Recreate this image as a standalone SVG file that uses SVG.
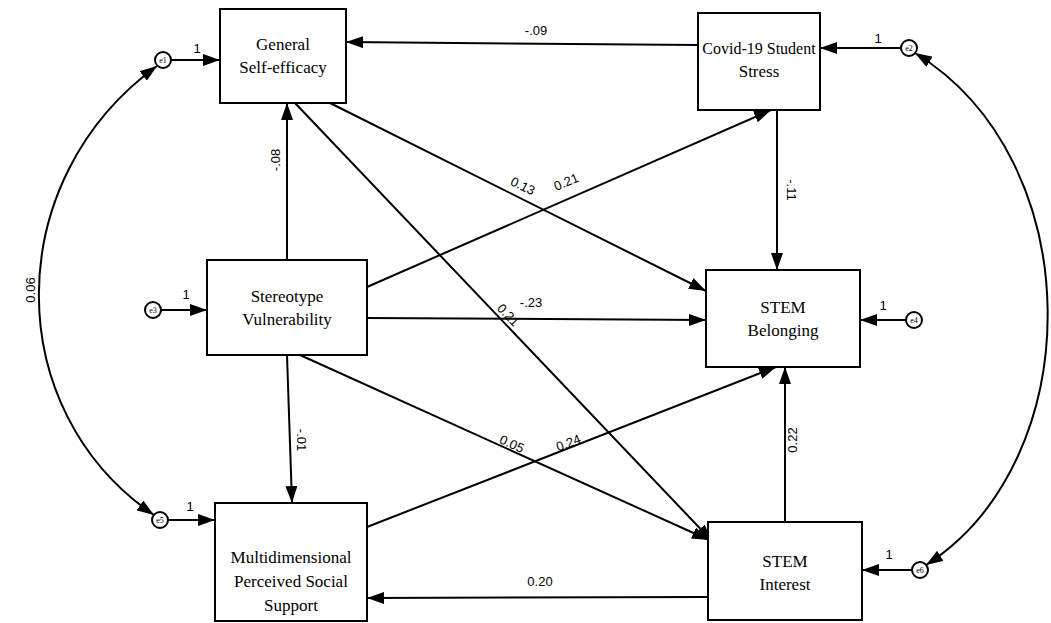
<svg xmlns="http://www.w3.org/2000/svg" width="1051" height="623" viewBox="0 0 1051 623">
<style>
.box{fill:#fff;stroke:#000;stroke-width:2}
.bt{font-family:"Liberation Serif",serif;font-size:17px;fill:#000;text-anchor:middle}
.lb{font-family:"Liberation Sans",sans-serif;font-size:13px;fill:#000;text-anchor:middle}
.ln{fill:none;stroke:#000;stroke-width:2;marker-end:url(#ah)}
.cv{fill:none;stroke:#000;stroke-width:2;marker-start:url(#ah);marker-end:url(#ah)}
.ec{fill:#fff;stroke:#000;stroke-width:2}
.et{font-family:"Liberation Serif",serif;font-size:8px;fill:#000;text-anchor:middle}
</style>
<defs>
<marker id="ah" viewBox="0 0 17 12" refX="17" refY="6" markerWidth="17" markerHeight="12" markerUnits="userSpaceOnUse" orient="auto-start-reverse">
<path d="M0,0 L17,6 L0,12 Z" fill="#000"/>
</marker>
</defs>
<rect width="1051" height="623" fill="#fff"/>
<g id="connectors">
<path class="ln" d="M698,45 L346,42"/>
<path class="ln" d="M287,260 L287,103"/>
<path class="ln" d="M330,103 L706,291"/>
<path class="ln" d="M367,287 L771,110"/>
<path class="ln" d="M295,103 L712,541"/>
<path class="ln" d="M367,318 L706,320"/>
<path class="ln" d="M287,355 L292,503"/>
<path class="ln" d="M300,355 L709,540"/>
<path class="ln" d="M367,527 L776,367"/>
<path class="ln" d="M777,110 L777,270"/>
<path class="ln" d="M785,522 L785,367"/>
<path class="ln" d="M708,597 L367,598"/>
<path class="ln" d="M171,60 L220,60"/>
<path class="ln" d="M901,48 L820,48"/>
<path class="ln" d="M161,310 L207,310"/>
<path class="ln" d="M906,320 L860,320"/>
<path class="ln" d="M168,520 L215,520"/>
<path class="ln" d="M912,570 L862,570"/>
<path class="cv" d="M157,66 C0,180 0,410 154,515"/>
<path class="cv" d="M915,53 C1090,160 1090,460 926,565"/>
<text class="lb" x="536" y="35">-.09</text>
<text class="lb" transform="translate(280,160) rotate(-90)">-.08</text>
<text class="lb" transform="translate(521,190) rotate(26)">0.13</text>
<text class="lb" transform="translate(568,186) rotate(-23)">0.21</text>
<text class="lb" transform="translate(505,318) rotate(46)">0.21</text>
<text class="lb" x="531" y="307">-.23</text>
<text class="lb" transform="translate(297,440) rotate(90)">-.01</text>
<text class="lb" transform="translate(510,448) rotate(24)">0.05</text>
<text class="lb" transform="translate(570,447) rotate(-21)">0.24</text>
<text class="lb" transform="translate(787,190) rotate(90)">-.11</text>
<text class="lb" transform="translate(797,440) rotate(-90)">0.22</text>
<text class="lb" x="540" y="586">0.20</text>
<text class="lb" transform="translate(35,290) rotate(-90)">0.06</text>
<text class="lb" x="197" y="53">1</text>
<text class="lb" x="878" y="43">1</text>
<text class="lb" x="186" y="299">1</text>
<text class="lb" x="883" y="310">1</text>
<text class="lb" x="190" y="511">1</text>
<text class="lb" x="889" y="559">1</text>
</g>
<g id="e1"><circle class="ec" cx="163" cy="60" r="8"/><text class="et" x="163" y="63">e1</text></g>
<g id="e2"><circle class="ec" cx="909" cy="48" r="8"/><text class="et" x="909" y="51">e2</text></g>
<g id="e3"><circle class="ec" cx="153" cy="310" r="8"/><text class="et" x="153" y="313">e3</text></g>
<g id="e4"><circle class="ec" cx="914" cy="320" r="8"/><text class="et" x="914" y="323">e4</text></g>
<g id="e5"><circle class="ec" cx="160" cy="520" r="8"/><text class="et" x="160" y="523">e5</text></g>
<g id="e6"><circle class="ec" cx="920" cy="570" r="8"/><text class="et" x="920" y="573">e6</text></g>
<g id="gse"><rect class="box" x="220" y="9" width="126" height="94"/><text class="bt" x="283" y="50">General</text><text class="bt" x="283" y="73">Self-efficacy</text></g>
<g id="covid"><rect class="box" x="698" y="13" width="122" height="97"/><text class="bt" x="759" y="54" style="font-size:16px">Covid-19 Student</text><text class="bt" x="759" y="77">Stress</text></g>
<g id="sv"><rect class="box" x="207" y="260" width="160" height="95"/><text class="bt" x="287" y="302">Stereotype</text><text class="bt" x="287" y="325">Vulnerability</text></g>
<g id="belong"><rect class="box" x="706" y="270" width="154" height="97"/><text class="bt" x="783" y="313">STEM</text><text class="bt" x="783" y="336">Belonging</text></g>
<g id="mpss"><rect class="box" x="215" y="503" width="152" height="118"/><text class="bt" x="291" y="563">Multidimensional</text><text class="bt" x="291" y="587">Perceived Social</text><text class="bt" x="291" y="611">Support</text></g>
<g id="interest"><rect class="box" x="708" y="522" width="154" height="98"/><text class="bt" x="785" y="567">STEM</text><text class="bt" x="785" y="590">Interest</text></g>
</svg>
